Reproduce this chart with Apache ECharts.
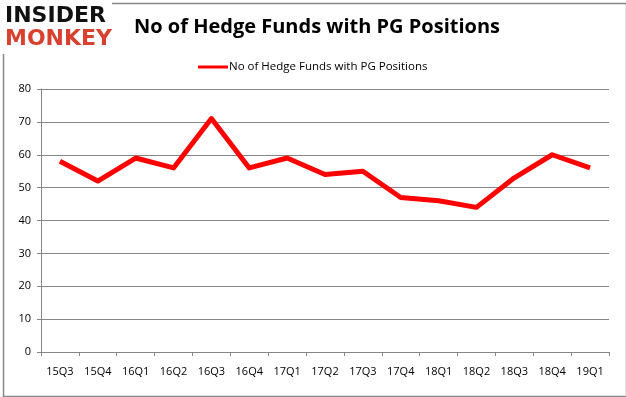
<!DOCTYPE html>
<html>
<head>
<meta charset="utf-8">
<script src="https://cdn.jsdelivr.net/npm/echarts@6/dist/echarts.min.js"></script>
<style>
  html, body { margin: 0; padding: 0; background: #fff; }
  #main { width: 626px; height: 397px; }
</style>
</head>
<body>
<div id="main"></div>
<script>
// quarters on the x axis
const quarters = ['15Q3', '15Q4', '16Q1', '16Q2', '16Q3', '16Q4', '17Q1', '17Q2', '17Q3', '17Q4', '18Q1', '18Q2', '18Q3', '18Q4', '19Q1'];
// number of hedge funds holding PG
const fundCounts = [58, 52, 59, 56, 71, 56, 59, 54, 55, 47, 46, 44, 53, 60, 56];
const seriesName = 'No of Hedge Funds with PG Positions';

const chart = echarts.init(document.getElementById('main'));

const option = {
  animation: false,
  backgroundColor: '#fff',
  title: {
    text: 'No of Hedge Funds with PG Positions',
    left: 312,
    textAlign: 'center',
    top: 12,
    textStyle: {
      fontFamily: 'Open Sans',
      fontWeight: 'bold',
      fontSize: 20,
      color: '#000'
    }
  },
  legend: {
    data: [seriesName],
    left: 193,
    top: 56,
    itemWidth: 30,
    itemHeight: 3,
    itemGap: 0,
    icon: 'rect',
    textStyle: {
      fontFamily: 'Open Sans',
      fontSize: 11.5,
      color: '#000',
      padding: [0, 0, 0, -4]
    }
  },
  grid: {
    left: 41,
    right: 17,
    top: 89,
    bottom: 45
  },
  xAxis: {
    type: 'category',
    data: quarters,
    boundaryGap: true,
    axisLine: { lineStyle: { color: '#868686', width: 1 } },
    axisTick: { show: true, length: 4, lineStyle: { color: '#868686' } },
    axisLabel: {
      fontFamily: 'Open Sans',
      fontSize: 11,
      color: '#000',
      margin: 14
    }
  },
  yAxis: {
    type: 'value',
    min: 0,
    max: 80,
    interval: 10,
    axisLine: { show: true, lineStyle: { color: '#868686', width: 1 } },
    axisTick: { show: true, length: 4, lineStyle: { color: '#868686' } },
    axisLabel: {
      fontFamily: 'Open Sans',
      fontSize: 11,
      color: '#000',
      margin: 10
    },
    splitLine: { lineStyle: { color: '#868686', width: 1 } }
  },
  series: [
    {
      name: seriesName,
      type: 'line',
      data: fundCounts,
      symbol: 'none',
      lineStyle: { color: '#ff0000', width: 5, join: 'round' },
      itemStyle: { color: '#ff0000' }
    }
  ],
  graphic: [
    {
      type: 'rect',
      left: 1,
      top: 1,
      shape: { width: 623, height: 393 },
      style: { fill: 'none', stroke: '#868686', lineWidth: 1.5 },
      z: -1
    },
    {
      type: 'rect',
      left: 0,
      top: 0,
      shape: { width: 112, height: 54 },
      style: { fill: '#fff' },
      z: 10
    },
    {
      type: 'text',
      left: 5,
      top: 5,
      style: {
        text: 'INSIDER',
        fontFamily: 'DejaVu Sans',
        fontWeight: 'bold',
        fontSize: 22,
        fill: '#111'
      },
      z: 11
    },
    {
      type: 'text',
      left: 5,
      top: 28,
      style: {
        text: 'MONKEY',
        fontFamily: 'DejaVu Sans',
        fontWeight: 'bold',
        fontSize: 22,
        fill: '#d8412f'
      },
      z: 11
    }
  ]
};

chart.setOption(option);
</script>
</body>
</html>
